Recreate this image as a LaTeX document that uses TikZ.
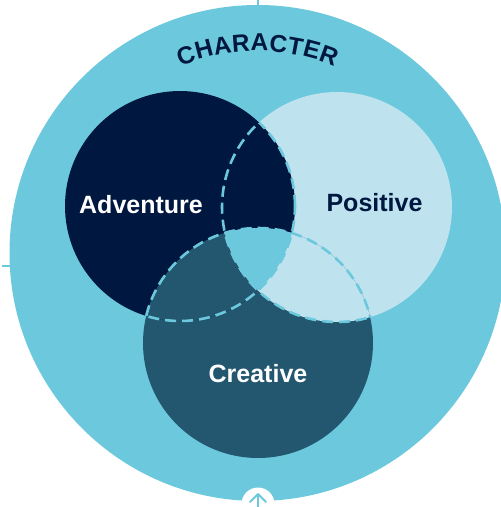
\documentclass[tikz,border=0pt]{standalone}
\usepackage{fontspec}
\setmainfont{Liberation Sans}
\usetikzlibrary{decorations.text}
\definecolor{bgcyan}{HTML}{6CC8DC}
\definecolor{navy}{HTML}{00173F}
\definecolor{lightblue}{HTML}{BEE3EF}
\definecolor{tealdark}{HTML}{23566F}
\tikzset{
  ringdash/.style={draw=bgcyan, line width=2.6pt, dash pattern=on 11pt off 6pt},
  lbl/.style={font=\fontsize{25}{28}\selectfont\bfseries, anchor=base, inner sep=0pt},
  tickline/.style={draw=bgcyan, line width=1.6pt},
}
\begin{document}
\begin{tikzpicture}[x=1pt,y=1pt]
\useasboundingbox (0,-507) rectangle (501,0);
\clip (0,-507) rectangle (501,0);
\coordinate (O) at (257.5,-253);
\coordinate (A) at (180,-206);
\coordinate (P) at (337,-207);
\coordinate (C) at (258,-343);
% ticks
\coordinate (t1) at (258,0);
\coordinate (t2) at (258,-7);
\coordinate (l1) at (2,-266);
\coordinate (l2) at (12,-266);
\draw[tickline] (t1) -- (t2);
\draw[tickline] (l1) -- (l2);
% big circle
\fill[bgcyan] (O) circle[radius=248];
% circles
\fill[lightblue] (P) circle[radius=115];
\fill[tealdark] (C) circle[radius=115];
\fill[navy] (A) circle[radius=115];
\begin{scope}
  \clip (A) circle[radius=115];
  \fill[tealdark] (C) circle[radius=115];
\end{scope}
\begin{scope}
  \clip (C) circle[radius=115];
  \fill[lightblue] (P) circle[radius=115];
\end{scope}
\begin{scope}
  \clip (A) circle[radius=115];
  \clip (P) circle[radius=115];
  \fill[bgcyan] (C) circle[radius=115];
\end{scope}
% dashed outlines inside overlaps
\begin{scope}
  \clip (P) circle[radius=115] (C) circle[radius=115];
  \draw[ringdash] (A) circle[radius=115];
\end{scope}
\begin{scope}
  \clip (A) circle[radius=115] (C) circle[radius=115];
  \draw[ringdash] (P) circle[radius=115];
\end{scope}
\begin{scope}
  \clip (A) circle[radius=115] (P) circle[radius=115];
  \draw[ringdash] (C) circle[radius=115];
\end{scope}
% labels
\node[lbl, text=white] (adv) at (141,-213) {Adventure};
\node[lbl, text=navy] (pos) at (374.5,-211) {Positive};
\node[lbl, text=white] (cre) at (258,-382) {Creative};
% curved title
\path[decorate, decoration={text along path, text color=navy,
  text format delimiters={|}{|},
  text={|\fontsize{24.5}{24.5}\selectfont\bfseries|CHARACTER},
  text align={fit to path}}]
  (O) ++(112.4:202) arc[start angle=112.4, end angle=67.6, radius=202];
% bottom icon
\coordinate (ic) at (258,-504);
\fill[white] (ic) circle[radius=16.5];
\coordinate (ap) at (258,-494);
\coordinate (al) at (250,-502);
\coordinate (ar) at (266,-502);
\coordinate (ab) at (258,-509);
\draw[bgcyan, line width=2pt, line cap=round, line join=round] (al) -- (ap) -- (ar);
\draw[bgcyan, line width=2pt] (ap) -- (ab);
\end{tikzpicture}
\end{document}
